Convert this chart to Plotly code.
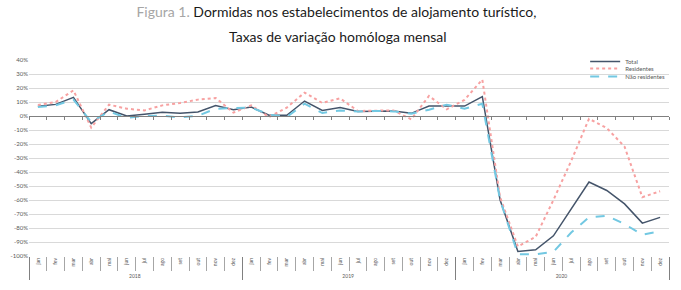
import plotly.graph_objects as go

months = ["jan", "fev", "mar", "abr", "mai", "jun", "jul", "ago", "set", "out", "nov", "dez"]
years = ["2018", "2019", "2020"]

total = [6.9, 8.3, 13.3, -5.5, 4.5, 0.0, 1.2, 2.6, 1.9, 2.9, 7.4, 4.5,
         6.4, 0.5, 0.5, 10.7, 4.0, 6.0, 3.3, 3.3, 3.6, 1.9, 7.1, 7.1,
         7.1, 13.8, -60.0, -96.8, -95.6, -85.6, -66.4, -47.2, -53.2, -62.8, -76.5, -72.4]
residentes = [7.9, 10.0, 18.3, -8.3, 8.1, 5.2, 4.0, 7.6, 9.3, 11.7, 12.9, 2.4,
              7.6, -0.7, 6.0, 16.7, 9.3, 12.6, 3.6, 4.0, 4.0, -2.4, 14.3, 4.8,
              11.5, 26.0, -58.0, -93.2, -86.3, -60.0, -32.0, -2.0, -8.6, -21.9, -58.0, -53.7]
nao_residentes = [6.4, 7.6, 11.7, -4.3, 3.3, -1.4, 0.0, 0.2, -1.0, 0.2, 5.2, 5.7,
                  6.0, 1.0, -0.7, 8.8, 2.1, 4.0, 3.3, 3.6, 3.3, 1.7, 4.5, 8.1,
                  5.2, 8.8, -60.0, -98.8, -98.8, -97.0, -83.2, -72.4, -71.2, -77.2, -84.8, -82.4]
y_ticks = list(range(40, -101, -10))
y_tick_labels = [f"{v}%" for v in y_ticks]

x_years = [y for y in years for _ in months]
x_months = [m for _ in years for m in months]
x = [x_years, x_months]

fig = go.Figure()
fig.add_trace(go.Scatter(x=x, y=total, name="Total", mode="lines", legend="legend",
                         line=dict(color="#44546a", width=1.5)))
fig.add_trace(go.Scatter(x=x, y=residentes, name="Residentes", mode="lines", legend="legend2",
                         line=dict(color="#f7a1a1", width=2, dash="dot")))
fig.add_trace(go.Scatter(x=x, y=nao_residentes, name="Não residentes", mode="lines", legend="legend3",
                         line=dict(color="#72c8e2", width=2, dash="dash")))
# zero-line axis with ticks (invisible helper trace)
idx = list(range(len(x_months)))
fig.add_trace(go.Scatter(x=idx, y=[None] * len(idx), xaxis="x2", showlegend=False,
                         hoverinfo="skip", mode="lines"))

leg_common = dict(x=0.869, xanchor="left", yanchor="top", bgcolor="rgba(0,0,0,0)",
                  font=dict(size=6, color="#595959"), itemwidth=30)

fig.update_layout(
    width=681, height=290,
    margin=dict(l=22, r=11, t=60, b=34),
    paper_bgcolor="white", plot_bgcolor="white",
    font=dict(family="Lato", color="#595959"),
    title=dict(
        text="<span style='color:#a6a6a6'>Figura 1.</span> Dormidas nos estabelecimentos de alojamento turístico,",
        x=0.494, xanchor="center", y=0.976, yanchor="top", yref="container",
        font=dict(family="Lato", size=14, color="#1a1a1a")),
    annotations=[dict(text="Taxas de variação homóloga mensal", xref="paper", yref="paper",
                      x=0.483, xanchor="center", y=1 + 23.5 / 196, yanchor="middle", showarrow=False,
                      font=dict(family="Lato", size=14, color="#1a1a1a"))],
    showlegend=True,
    legend=dict(y=1 + 13 / 196, **leg_common),
    legend2=dict(y=1 + 6 / 196, **leg_common),
    legend3=dict(y=1 - 2 / 196, **leg_common),
    xaxis=dict(type="multicategory", showgrid=False, showline=False,
               ticks="outside", tickson="boundaries", ticklen=14, tickcolor="#a6a6a6",
               tickangle=-90, tickfont=dict(size=5, color="#595959"),
               showdividers=True, dividercolor="#808080", dividerwidth=1,
               range=[-0.5, 35.5]),
    xaxis2=dict(type="linear", overlaying="x", anchor="free", position=100 / 140,
                range=[-0.5, 35.5], showgrid=False, showline=True, linecolor="#808080",
                linewidth=1, ticks="outside", ticklen=3, tickcolor="#808080",
                tickvals=[i - 0.5 for i in range(37)], showticklabels=False,
                zeroline=False),
    yaxis=dict(range=[-100, 40], tickvals=y_ticks, ticktext=y_tick_labels,
               showgrid=True, gridcolor="#d9d9d9", gridwidth=1, zeroline=False,
               tickfont=dict(size=6, color="#595959"), ticks="", showline=False),
)

fig.write_html("out.html")
